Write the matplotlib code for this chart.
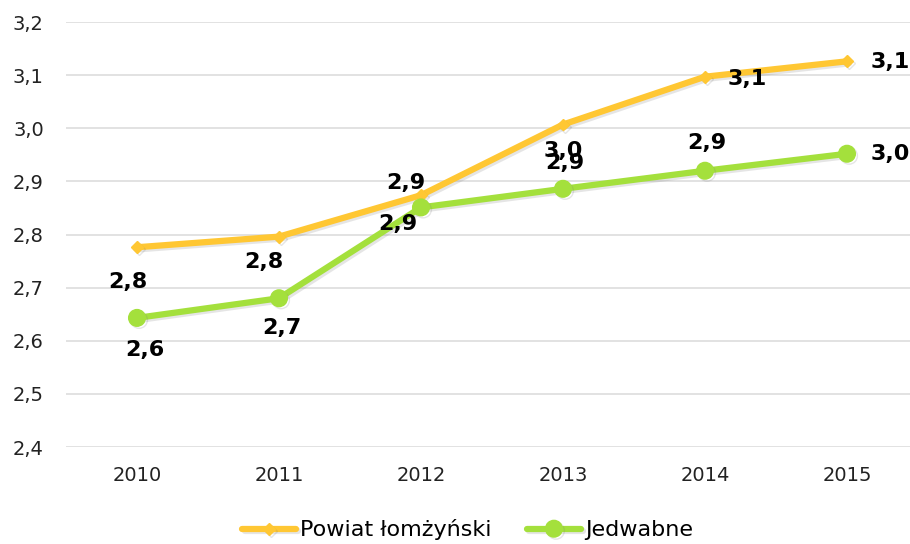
import matplotlib
matplotlib.use("Agg")
import matplotlib.pyplot as plt
import matplotlib.patheffects as pe
import numpy as np

# data
years = ["2010", "2011", "2012", "2013", "2014", "2015"]
powiat = [2.776, 2.796, 2.874, 3.007, 3.097, 3.126]
jedwabne = [2.643, 2.680, 2.851, 2.886, 2.920, 2.952]
series_names = ["Powiat łomżyński", "Jedwabne"]
y_ticks = [2.4, 2.5, 2.6, 2.7, 2.8, 2.9, 3.0, 3.1, 3.2]

# label offsets in pixels (dx, dy)
powiat_off = [(-9, -35), (-15, -25), (-15, 12), (0, -26), (42, -2), (43, -1)]
jedwabne_off = [(8, -32), (3, -30), (-23, -17), (2, 26), (2, 28), (43, 0)]

ORANGE = "#FFC733"
GREEN = "#A4E03C"

plt.rcParams["font.family"] = ["DejaVu Sans"]

fig = plt.figure(figsize=(9.10, 5.44), dpi=100)
ax = fig.add_axes([66 / 910, 1 - 447 / 544, 852 / 910, 425 / 544])

x = np.arange(len(years))
shadow = [pe.SimpleLineShadow(offset=(1.5, -1.5), alpha=0.2, shadow_color="gray"), pe.Normal()]

ax.plot(x, powiat, color=ORANGE, lw=4.5, marker="D", ms=6, mfc=ORANGE, mec=ORANGE,
        label=series_names[0], path_effects=shadow, zorder=3, solid_capstyle="round")
ax.plot(x, jedwabne, color=GREEN, lw=4.5, marker="o", ms=12, mfc=GREEN, mec=GREEN,
        label=series_names[1], path_effects=shadow, zorder=3, solid_capstyle="round")

# value labels (comma decimal separator, as in the original)
for vals, offs in [(powiat, powiat_off), (jedwabne, jedwabne_off)]:
    for xi, v, (dx, dy) in zip(x, vals, offs):
        ax.annotate(f"{v:.1f}".replace(".", ","), (xi, v), xytext=(dx, dy),
                    textcoords="offset pixels", ha="center", va="center",
                    fontsize=16, fontweight="bold", color="black", zorder=5)

ax.set_xlim(-0.5, len(years) - 0.5)
ax.set_ylim(2.4, 3.2)
ax.set_yticks(y_ticks)
ax.set_yticklabels([f"{t:.1f}".replace(".", ",") for t in y_ticks], fontsize=14, color="#222222")
ax.set_xticks(x)
ax.set_xticklabels(years, fontsize=14, color="#222222")
ax.tick_params(length=0)
ax.tick_params(axis="y", pad=16)
ax.tick_params(axis="x", pad=14)
ax.grid(axis="y", color="#DDDDDD", lw=1.2)
ax.set_axisbelow(True)
for s in ax.spines.values():
    s.set_visible(False)

fig.legend(loc="center", bbox_to_anchor=(0.514, 1 - 530 / 544), ncol=2, frameon=False,
           fontsize=16, handlelength=2.4, columnspacing=1.6, handletextpad=0.2)

plt.savefig("out.png", dpi=100)
